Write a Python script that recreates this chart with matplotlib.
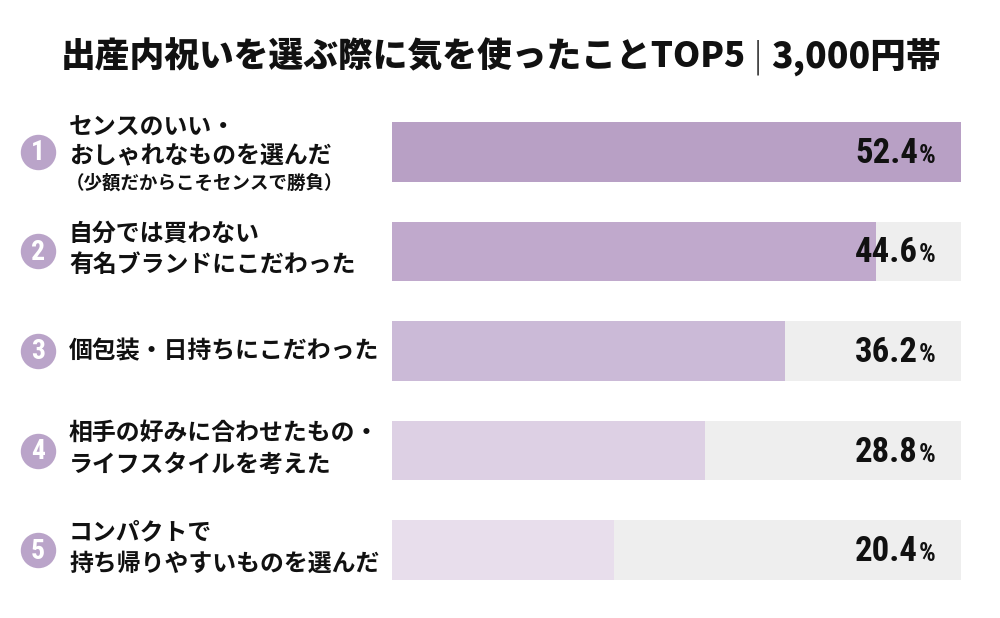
import matplotlib.pyplot as plt
from matplotlib import transforms

plt.rcParams['font.family'] = ['Noto Sans CJK JP', 'DejaVu Sans']

# data
ranks = ['1', '2', '3', '4', '5']
labels = [
    ['センスのいい・', 'おしゃれなものを選んだ', '（少額だからこそセンスで勝負）'],
    ['自分では買わない', '有名ブランドにこだわった'],
    ['個包装・日持ちにこだわった'],
    ['相手の好みに合わせたもの・', 'ライフスタイルを考えた'],
    ['コンパクトで', '持ち帰りやすいものを選んだ'],
]
values = [52.4, 44.6, 36.2, 28.8, 20.4]
bar_colors = ['#b8a0c5', '#c0a9cc', '#cbbad7', '#ddd0e4', '#e8deec']
track_color = '#eeeeee'
circle_color = '#baa4c9'
vmax = 52.4

num_font = ['Roboto Condensed', 'Roboto', 'DejaVu Sans']

fig = plt.figure(figsize=(10, 6.18), dpi=100)
fig.patch.set_facecolor('white')

# bars axes, pixel layout: x 392..961, y 102..600 (from top)
ax = fig.add_axes([0.392, 18 / 618, 0.569, 498 / 618])
ypos = list(range(len(values)))
ax.barh(ypos, [vmax] * len(values), height=0.6, color=track_color)
ax.barh(ypos, values, height=0.6, color=bar_colors)
ax.set_xlim(0, vmax)
ax.set_ylim(4.5, -0.5)
ax.axis('off')

# value labels: number right-aligned, smaller % after it, same baseline
trans = transforms.blended_transform_factory(fig.transFigure, ax.transData)
for y, v in zip(ypos, values):
    ax.text(0.918, y + 0.11, f'{v:.1f}', transform=trans, ha='right',
            va='baseline', fontsize=25, fontweight='bold', family=num_font,
            color='#111111')
    ax.text(0.919, y + 0.11, '%', transform=trans, ha='left', va='baseline',
            fontsize=19, fontweight='bold', family=num_font, color='#111111')

# left side: circles + labels (x in figure fraction, y in data)
ax.scatter([0.038] * len(ranks), ypos, s=600, color=circle_color,
           transform=trans, clip_on=False, zorder=3)
for y, r in zip(ypos, ranks):
    ax.text(0.038, y + 0.01, r, transform=trans, ha='center', va='center',
            fontsize=20, fontweight='bold', color='white', family=num_font)

px = 1 / 99.6
for y, lines in zip(ypos, labels):
    if len(lines) == 3:
        for t, o in zip(lines[:2], [-24, 5]):
            ax.text(0.069, y + o * px, t, transform=trans, ha='left',
                    va='center', fontsize=17.2, fontweight='bold', color='#111111')
        ax.text(0.066, y + 31 * px, lines[2], transform=trans, ha='left',
                va='center', fontsize=13.3, fontweight='bold', color='#111111')
    elif len(lines) == 2:
        for t, o in zip(lines, [-18, 14]):
            ax.text(0.069, y + o * px, t, transform=trans, ha='left',
                    va='center', fontsize=17.2, fontweight='bold', color='#111111')
    else:
        ax.text(0.069, y, lines[0], transform=trans, ha='left',
                va='center', fontsize=17.2, fontweight='bold', color='#111111')

# title
ty = 1 - 57 / 618
fig.text(0.746, ty, '出産内祝いを選ぶ際に気を使ったことTOP5', ha='right',
         va='center', fontsize=25, fontweight='heavy', color='#111111')
fig.text(0.758, ty, '|', ha='center', va='center', fontsize=26,
         fontweight='light', color='#333333', family='DejaVu Sans')
fig.text(0.771, ty, '3,000円帯', ha='left', va='center', fontsize=25.5,
         fontweight='heavy', color='#111111')

fig.savefig('out.png', dpi=100, facecolor='white')
